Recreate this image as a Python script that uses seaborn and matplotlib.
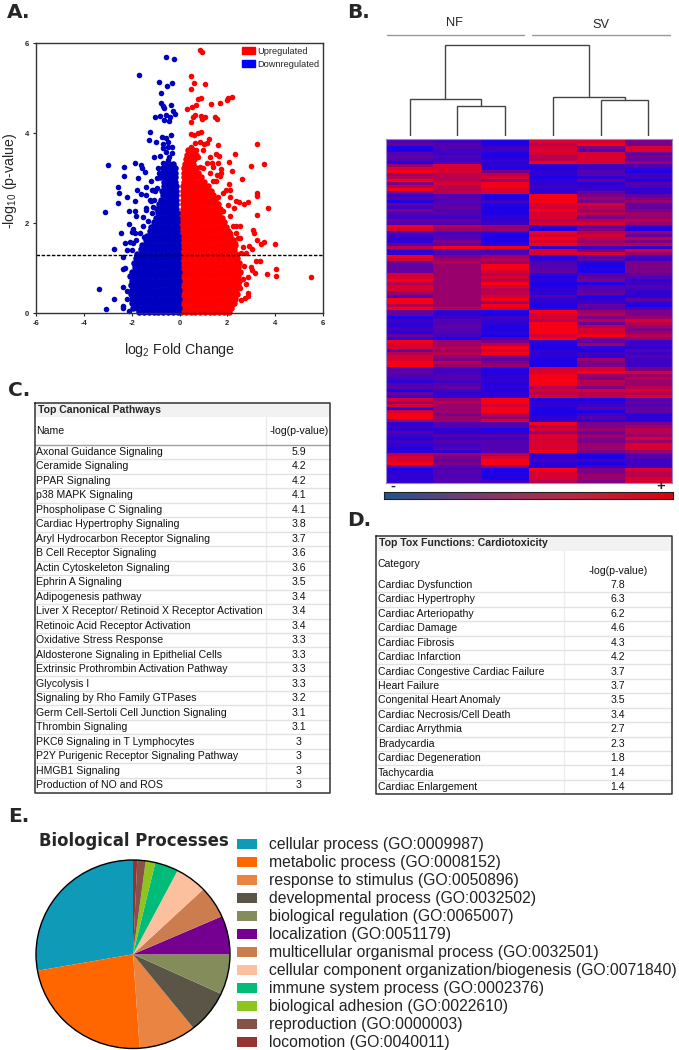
"""Multi-panel figure: volcano plot, clustered heatmap, two tables and a pie."""

import numpy as np
import pandas as pd
import matplotlib

matplotlib.use("Agg")  # headless-safe backend
import matplotlib.pyplot as plt
from matplotlib.colors import LinearSegmentedColormap
from matplotlib.patches import Patch
import seaborn as sns

W, H = 679, 1050

# ---- Panel A: volcano points ------------------------------------------------
up_x = [.85, .93, .49, .60, 1.07, .47, .79, .91, .33, .52, .68, 1.30, 1.69, 1.99, 2.02, 2.19,
        .64, .57, .91, 1.07, .96, .50, 1.48, 1.57, .46, .60, .79, .88, 1.24, 1.02, 1.16, 1.60,
        2.30, 3.25, 2.09, 2.97, 3.52, 1.52, 1.66, 2.20, 2.60, 2.08, 2.10, 1.96, 1.35, 1.62, 1.75,
        3.25, 3.25, 3.69, 3.25, 3.08, 3.11, 3.25, 3.40, 3.52, 4.00, 4.02, 4.05, 3.64, 5.49,
        3.38, 3.19, 3.02, 2.91, 2.35, 2.47, 2.69, 2.88, 2.28, 2.97, 3.05, 3.16, 2.87, 2.80,
        2.87, 2.87, 2.73, 2.59, 2.55, 2.24, 2.38, 2.55, 2.52, 2.31, 2.80, 2.59, 2.7, 2.65,
        1.52, 1.69, 1.27, 1.41, 1.62, 1.82, 2.10, 2.03, 1.82, 2.10, 2.24, 2.38, 2.10, 2.24, 2.45, 2.66,
        1.41, 1.13, .85, .99, 1.55, 1.75, 1.27, .99, .71, .50, .64, .85, .43, .57, .36, .78]
up_y = [5.86, 5.81, 5.27, 5.13, 5.10, 4.98, 4.76, 4.79, 4.55, 4.58, 4.62, 4.65, 4.68, 4.74, 4.78, 4.81,
        4.41, 4.37, 4.39, 4.36, 4.31, 4.26, 4.37, 4.33, 3.99, 3.97, 4.00, 4.04, 3.87, 3.76, 3.78, 3.73,
        3.55, 3.76, 3.36, 3.27, 3.31, 3.54, 3.50, 3.16, 2.98, 2.87, 2.74, 2.74, 3.33, 3.33, 3.21,
        2.67, 2.61, 2.33, 2.19, 1.85, 1.79, 1.63, 1.54, 1.59, 1.53, .99, .83, .87, .80,
        1.15, 1.15, 1.42, 1.50, 2.50, 2.48, 2.43, 2.48, 2.33, 1.02, .95, .89, .81, .65,
        .44, .37, .33, .30, .56, .21, 1.78, 1.94, 1.67, 1.56, 1.33, 1.33, 1.05, .75,
        2.93, 3.04, 3.11, 2.93, 2.59, 2.67, 2.59, 2.41, 2.26, 2.15, 1.93, 1.93, 1.78, 1.63, 1.67, 1.48,
        3.26, 3.33, 3.26, 3.22, 3.07, 3.11, 3.48, 3.63, 3.63, 3.70, 3.78, 3.81, 3.48, 3.41, 3.33, 3.48]

down_x = [-.57, -.24, -1.70, -.85, -.32, -.53, -.78, -.77, -.35, -.68, -.65, -.26, -.18, -1.04, -.82,
          -.57, -.38, -.65, -.43, -1.24, -.36, -1.27, -1.00, -.72, -.58, -.68, -.47, -.33, -1.06,
          -.82, -.58, -2.99, -2.33, -2.34, -1.87, -1.63, -1.55, -1.43, -1.75, -1.21, -2.56, -2.52,
          -2.56, -2.19, -1.77, -1.59, -1.41, -1.87, -3.11, -2.13, -1.87, -1.80, -1.52, -1.38, -2.44,
          -2.13, -1.94, -2.00, -1.87, -2.28, -2.08, -2.74, -2.21, -2.38, -2.28, -2.35, -2.38, -3.37,
          -2.21, -2.74, -2.21, -3.08, -2.35, -2.35, -2.13, -1.10, -1.03, -.96, -1.2, -1.1, -1.5,
          -.96, -.85, -.75, -.61, -.47, -.68, -.89, -1.38, -1.17, -1.24, -1.07, -1.38, -1.17, -1.52,
          -1.31, -1.66, -1.80, -1.49, -1.94, -2.00, -.47, -.33, -.45, -.68]
down_y = [5.70, 5.65, 5.29, 5.15, 5.11, 5.05, 4.89, 4.68, 4.64, 4.61, 4.56, 4.50, 4.44, 4.36, 4.39,
          4.41, 4.36, 4.30, 4.28, 4.03, 3.97, 3.85, 3.81, 3.91, 3.89, 3.76, 3.81, 3.70, 3.47,
          3.50, 3.59, 3.30, 3.24, 3.04, 3.33, 3.30, 3.22, 3.15, 3.00, 2.94, 2.80, 2.68,
          2.44, 2.58, 2.73, 2.64, 2.62, 2.49, 2.25, 2.28, 2.27, 2.15, 2.13, 2.30, 1.77,
          1.99, 1.88, 1.81, 1.78, 1.56, 1.59, 1.42, 1.41, 1.24, 1.00, .98, .58, .53,
          .48, .31, .31, .09, .16, .11, .04, 2.74, 2.72, 2.78, 2.5, 2.35, 1.25,
          3.00, 3.11, 3.22, 3.30, 3.41, 3.33, 3.22, 2.81, 2.74, 2.52, 2.52, 2.33, 2.22, 1.93,
          2.04, 1.78, 1.63, 1.70, 1.56, 1.41, 3.70, 3.56, 3.48, 3.67]

# dense part of the cloud, listed row by row as (p-value level, fold changes)
down_rows = [
    (.03, [-.08, -.28, -.48, -.68, -.88, -1.08, -1.28, -1.48, -1.68]),
    (.12, [-.04, -.18, -.38, -.58, -.78, -.98, -1.18, -1.38, -1.58, -1.78, -1.96]),
    (.22, [-.08, -.28, -.48, -.68, -.88, -1.08, -1.28, -1.48, -1.68, -1.88, -2.0]),
    (.32, [-.04, -.18, -.38, -.58, -.78, -.98, -1.18, -1.38, -1.58, -1.78, -1.98]),
    (.42, [-.08, -.28, -.48, -.68, -.88, -1.08, -1.28, -1.48, -1.68, -1.88, -2.04]),
    (.52, [-.04, -.18, -.38, -.58, -.78, -.98, -1.18, -1.38, -1.58, -1.78, -1.98]),
    (.62, [-.08, -.28, -.48, -.68, -.88, -1.08, -1.28, -1.48, -1.68, -1.88, -2.04]),
    (.72, [-.04, -.18, -.38, -.58, -.78, -.98, -1.18, -1.38, -1.58, -1.78, -1.98]),
    (.82, [-.08, -.28, -.48, -.68, -.88, -1.08, -1.28, -1.48, -1.68, -1.88, -2.06]),
    (.92, [-.04, -.18, -.38, -.58, -.78, -.98, -1.18, -1.38, -1.58, -1.78, -1.98]),
    (1.02, [-.08, -.28, -.48, -.68, -.88, -1.08, -1.28, -1.48, -1.68, -1.88]),
    (1.12, [-.05, -.18, -.38, -.58, -.78, -.98, -1.18, -1.38, -1.58, -1.78, -1.92]),
    (1.22, [-.08, -.28, -.48, -.68, -.88, -1.08, -1.28, -1.48, -1.68, -1.82]),
    (1.32, [-.05, -.18, -.38, -.58, -.78, -.98, -1.18, -1.38, -1.58, -1.76]),
    (1.42, [-.08, -.28, -.48, -.68, -.88, -1.08, -1.28, -1.48, -1.62]),
    (1.52, [-.06, -.18, -.38, -.58, -.78, -.98, -1.18, -1.38, -1.56]),
    (1.62, [-.08, -.28, -.48, -.68, -.88, -1.08, -1.28, -1.42]),
    (1.72, [-.08, -.18, -.38, -.58, -.78, -.98, -1.18, -1.34]),
    (1.82, [-.09, -.28, -.48, -.68, -.88, -1.08, -1.22]),
    (1.92, [-.09, -.18, -.38, -.58, -.78, -.98, -1.18]),
    (2.02, [-.10, -.28, -.48, -.68, -.88, -1.06]),
    (2.12, [-.10, -.20, -.38, -.58, -.78, -.98]),
    (2.22, [-.12, -.28, -.48, -.68, -.88]),
    (2.32, [-.13, -.22, -.38, -.58, -.78, -.92]),
    (2.42, [-.14, -.28, -.48, -.68, -.84]),
    (2.52, [-.14, -.24, -.38, -.58, -.78]),
    (2.62, [-.15, -.28, -.48, -.68]),
    (2.72, [-.15, -.24, -.38, -.58, -.72]),
    (2.82, [-.16, -.28, -.48, -.64]),
    (2.92, [-.20, -.36, -.52, -.66]),
    (3.02, [-.18, -.30, -.46, -.62, -.80]),
    (3.12, [-.20, -.36, -.52, -.70]),
    (3.22, [-.20, -.32, -.48, -.60]),
    (3.32, [-.28, -.44, -.55]),
]
up_rows = [
    (.03, [.06, .26, .46, .66, .86, 1.06, 1.26, 1.46, 1.66, 1.86, 2.06]),
    (.12, [.02, .16, .36, .56, .76, .96, 1.16, 1.36, 1.56, 1.76, 1.96, 2.16]),
    (.22, [.06, .26, .46, .66, .86, 1.06, 1.26, 1.46, 1.66, 1.86, 2.06, 2.26]),
    (.32, [.03, .16, .36, .56, .76, .96, 1.16, 1.36, 1.56, 1.76, 1.96, 2.16, 2.30]),
    (.42, [.06, .26, .46, .66, .86, 1.06, 1.26, 1.46, 1.66, 1.86, 2.06, 2.26, 2.42]),
    (.52, [.04, .16, .36, .56, .76, .96, 1.16, 1.36, 1.56, 1.76, 1.96, 2.16, 2.36]),
    (.62, [.06, .26, .46, .66, .86, 1.06, 1.26, 1.46, 1.66, 1.86, 2.06, 2.26, 2.44]),
    (.72, [.04, .16, .36, .56, .76, .96, 1.16, 1.36, 1.56, 1.76, 1.96, 2.16, 2.36, 2.50]),
    (.82, [.06, .26, .46, .66, .86, 1.06, 1.26, 1.46, 1.66, 1.86, 2.06, 2.26, 2.46]),
    (.92, [.05, .16, .36, .56, .76, .96, 1.16, 1.36, 1.56, 1.76, 1.96, 2.16, 2.36, 2.54]),
    (1.02, [.06, .26, .46, .66, .86, 1.06, 1.26, 1.46, 1.66, 1.86, 2.06, 2.26, 2.46]),
    (1.12, [.05, .16, .36, .56, .76, .96, 1.16, 1.36, 1.56, 1.76, 1.96, 2.16, 2.36, 2.50]),
    (1.22, [.06, .26, .46, .66, .86, 1.06, 1.26, 1.46, 1.66, 1.86, 2.06, 2.26, 2.42]),
    (1.32, [.06, .16, .36, .56, .76, .96, 1.16, 1.36, 1.56, 1.76, 1.96, 2.16, 2.36]),
    (1.42, [.06, .26, .46, .66, .86, 1.06, 1.26, 1.46, 1.66, 1.86, 2.06, 2.26]),
    (1.52, [.07, .16, .36, .56, .76, .96, 1.16, 1.36, 1.56, 1.76, 1.96, 2.16, 2.30]),
    (1.62, [.08, .26, .46, .66, .86, 1.06, 1.26, 1.46, 1.66, 1.86, 2.06, 2.22]),
    (1.72, [.08, .16, .36, .56, .76, .96, 1.16, 1.36, 1.56, 1.76, 1.96, 2.10]),
    (1.82, [.09, .26, .46, .66, .86, 1.06, 1.26, 1.46, 1.66, 1.86, 2.02]),
    (1.92, [.09, .16, .36, .56, .76, .96, 1.16, 1.36, 1.56, 1.76, 1.96]),
    (2.02, [.10, .26, .46, .66, .86, 1.06, 1.26, 1.46, 1.66, 1.86]),
    (2.12, [.11, .20, .36, .56, .76, .96, 1.16, 1.36, 1.56, 1.76]),
    (2.22, [.12, .26, .46, .66, .86, 1.06, 1.26, 1.46, 1.66]),
    (2.32, [.13, .22, .36, .56, .76, .96, 1.16, 1.36, 1.56, 1.70]),
    (2.42, [.13, .26, .46, .66, .86, 1.06, 1.26, 1.46, 1.60]),
    (2.52, [.14, .24, .36, .56, .76, .96, 1.16, 1.36, 1.50]),
    (2.62, [.15, .26, .46, .66, .86, 1.06, 1.26, 1.40]),
    (2.72, [.15, .24, .36, .56, .76, .96, 1.16, 1.30]),
    (2.82, [.16, .26, .46, .66, .86, 1.06, 1.20]),
    (2.92, [.17, .30, .46, .66, .86, 1.02]),
    (3.02, [.18, .34, .52, .70, .88]),
    (3.12, [.18, .30, .46, .62, .78]),
    (3.22, [.20, .38, .56, .70]),
    (3.32, [.24, .40, .58]),
    (3.42, [.28, .46, .62]),
    (3.52, [.32, .50, .70]),
    (3.62, [.36, .56]),
]
x_ticks = [-6, -4, -2, 0, 2, 4, 6]
y_ticks = [0, 2, 4, 6]
cutoff = 1.3

# ---- Panel B: one string per gene row, one digit per sample (0 blue, 9 red) --
heat_rows = """
320885 430795 032858 022838 320884 430785 321784 031986 681123 880021 985130 677132
778012 976140 589113 779213 978121 578141 230954 330965 032956 430884 240874 530965
330876 221856 441777 332886 976241 866050 321976 230884 130977 150865 441977 799121
131858 133886 956032 867142 476305 469305 469305 468405 867134 868043 967151 769002
868033 867132 667141 368301 969114 966121 769040 978133 410965 410875 022856 231778
131947 140976 230985 131986 420897 103956 965142 867062 879011 468103 779122 865113
854062 975052 966052 320885 420898 331966 231957 121976 330976 341757 020888 411777
221878 869003 679114 868123 069034 869004 957020 966131 668111 133955 233756 110867
311647 233866 022858 233856 123868 033868 113956 767003 858103 849222 959102 436022
030958 130857 130867 130868 132758
"""
heat = [[int(c) for c in row] for row in heat_rows.split()]
heat_cols = ["NF1", "NF2", "NF3", "SV1", "SV2", "SV3"]

# dendrogram merges: (left leaf position, right leaf position, height)
merge_left = [1.5, 0.5, 4.5, 3.5, 1.25]
merge_right = [2.5, 2.0, 5.5, 5.0, 4.25]
merge_height = [30, 37.5, 36, 39, 91.5]
merge_left_height = [0, 0, 0, 0, 37.5]
merge_right_height = [0, 30, 0, 36, 39]
group_names = ["NF", "SV"]

# ---- Panels C and D ----------------------------------------------------------
pathways = ["Axonal Guidance Signaling", "Ceramide Signaling", "PPAR Signaling",
            "p38 MAPK Signaling", "Phospholipase C Signaling", "Cardiac Hypertrophy Signaling",
            "Aryl Hydrocarbon Receptor Signaling", "B Cell Receptor Signaling",
            "Actin Cytoskeleton Signaling", "Ephrin A Signaling", "Adipogenesis pathway",
            "Liver X Receptor/ Retinoid X Receptor Activation", "Retinoic Acid Receptor Activation",
            "Oxidative Stress Response", "Aldosterone Signaling in Epithelial Cells",
            "Extrinsic Prothrombin Activation Pathway", "Glycolysis I",
            "Signaling by Rho Family GTPases", "Germ Cell-Sertoli Cell Junction Signaling",
            "Thrombin Signaling", "PKC\u03b8 Signaling in T Lymphocytes",
            "P2Y Purigenic Receptor Signaling Pathway", "HMGB1 Signaling", "Production of NO and ROS"]
pathway_vals = ["5.9", "4.2", "4.2", "4.1", "4.1", "3.8", "3.7", "3.6", "3.6", "3.5", "3.4", "3.4",
                "3.4", "3.3", "3.3", "3.3", "3.3", "3.2", "3.1", "3.1", "3", "3", "3", "3"]

tox_names = ["Cardiac Dysfunction", "Cardiac Hypertrophy", "Cardiac Arteriopathy", "Cardiac Damage",
             "Cardiac Fibrosis", "Cardiac Infarction", "Cardiac Congestive Cardiac Failure",
             "Heart Failure", "Congenital Heart Anomaly", "Cardiac Necrosis/Cell Death",
             "Cardiac Arrythmia", "Bradycardia", "Cardiac Degeneration", "Tachycardia",
             "Cardiac Enlargement"]
tox_vals = ["7.8", "6.3", "6.2", "4.6", "4.3", "4.2", "3.7", "3.7", "3.5", "3.4", "2.7", "2.3",
            "1.8", "1.4", "1.4"]

# ---- Panel E -----------------------------------------------------------------
go_labels = ["cellular process (GO:0009987)", "metabolic process (GO:0008152)",
             "response to stimulus (GO:0050896)", "developmental process (GO:0032502)",
             "biological regulation (GO:0065007)", "localization (GO:0051179)",
             "multicellular organismal process (GO:0032501)",
             "cellular component organization/biogenesis (GO:0071840)",
             "immune system process (GO:0002376)", "biological adhesion (GO:0022610)",
             "reproduction (GO:0000003)", "locomotion (GO:0040011)"]
go_share = [27.8, 23.3, 9.6, 7.4, 6.9, 6.6, 5.5, 5.3, 3.9, 1.6, 1.4, .7]
go_colors = ["#0f9ab8", "#ff6600", "#e98443", "#5a5546", "#848c5c", "#75008f",
             "#cc7d50", "#fdc09f", "#00bc78", "#8dc41e", "#865248", "#953432"]

sns.set_style("white")
plt.rcParams["font.family"] = ["Liberation Sans", "DejaVu Sans"]
plt.rcParams["mathtext.default"] = "regular"
plt.rcParams["axes.unicode_minus"] = False

fig = plt.figure(figsize=(W / 100, H / 100), dpi=100)


def px_axes(x0, y0, x1, y1):
    """Axes placed by its pixel box, y counted from the top of the image."""
    return fig.add_axes([x0 / W, 1 - y1 / H, (x1 - x0) / W, (y1 - y0) / H])


def expand_rows(rows):
    xs, ys = [], []
    for level, fold_changes in rows:
        xs += fold_changes
        ys += [level] * len(fold_changes)
    return xs, ys


# full-page layer for the panel letters, tables and small annotations
page = px_axes(0, 0, W, H)
page.set_xlim(0, W)
page.set_ylim(H, 0)
page.axis("off")
page.set_zorder(10)


def draw_table(title, head_left, head_right, names, vals, box, split, band, head_line,
               first_y, step, head_y, val_head_y, val_x):
    left, top, right, bottom = box
    page.fill_between([left, right], top, band, color="#f2f2f2", lw=0, zorder=1)
    page.plot([split, split], [band, bottom], color="#ececec", lw=1, zorder=1)
    if head_line:
        page.plot([left, right], [head_line, head_line], color="#a0a0a0", lw=1, zorder=1)
    for i in range(len(names)):
        y = first_y + i * step
        if i < len(names) - 1:
            page.plot([left, right], [y + step / 2, y + step / 2], color="#e2e2e2", lw=1, zorder=1)
        page.text(left + 2, y, names[i], fontsize=7.6, va="center", color="#111111", zorder=3)
        page.text(val_x, y, vals[i], fontsize=7.6, va="center", ha="center", color="#111111", zorder=3)
    page.plot([left, right, right, left, left], [top, top, bottom, bottom, top],
              color="#333333", lw=1.1, zorder=4)
    page.text(left + 3, (top + band) / 2, title, fontsize=7.6, fontweight="bold", va="center", zorder=3)
    page.text(left + 2, head_y, head_left, fontsize=7.6, va="center", color="#111111", zorder=3)
    page.text(val_x, val_head_y, head_right, fontsize=7.6, va="center", ha="center", color="#111111", zorder=3)


# ---- A: volcano --------------------------------------------------------------
ax = px_axes(36, 43.5, 323, 313)
mass_up_x, mass_up_y = expand_rows(up_rows)
mass_down_x, mass_down_y = expand_rows(down_rows)
up_color, down_color = "#ff0000", "#0000c0"
sns.scatterplot(x=mass_up_x, y=mass_up_y, color=up_color, s=22, linewidth=0, ax=ax, clip_on=False)
sns.scatterplot(x=mass_down_x, y=mass_down_y, color=down_color, s=22, linewidth=0, ax=ax, clip_on=False)
sns.scatterplot(x=up_x, y=up_y, color=up_color, s=16, linewidth=0, ax=ax, clip_on=False)
sns.scatterplot(x=down_x, y=down_y, color=down_color, s=16, linewidth=0, ax=ax, clip_on=False)
ax.axhline(cutoff, color="black", ls=(0, (2.5, 1.2)), lw=1.0)
ax.set_xlim(-6, 6)
ax.set_ylim(0, 6)
ax.set_xticks(x_ticks)
ax.set_yticks(y_ticks)
ax.tick_params(axis="both", direction="out", length=2.5, width=0.8, pad=2.5, labelsize=5.5,
               bottom=True, left=True, color="#222222")
for lab in ax.get_xticklabels() + ax.get_yticklabels():
    lab.set_fontweight("bold")
for spine in ax.spines.values():
    spine.set_color("#333333")
    spine.set_linewidth(1.0)
ax.set_xlabel("log$_{2}$ Fold Change", fontsize=10.2, labelpad=10)
ax.set_ylabel("-log$_{10}$ (p-value)", fontsize=10.2)
ax.yaxis.set_label_coords(-0.06, 0.49)
ax.legend(handles=[Patch(color="#ff0000", label="Upregulated"),
                   Patch(color="#0000ff", label="Downregulated")],
          loc="upper right", bbox_to_anchor=(0.995, 0.995), frameon=False, fontsize=6.7,
          handlelength=1.4, handleheight=0.9, handletextpad=0.25, labelspacing=0.4,
          borderaxespad=0, borderpad=0.2)

# ---- B: heatmap and dendrogram -----------------------------------------------
heat_cmap = LinearSegmentedColormap.from_list("bpr", ["#1e00e6", "#6c0096", "#f50015"])
ax = px_axes(385.7, 139.5, 672.3, 483)
sns.heatmap(pd.DataFrame(heat, columns=heat_cols), cmap=heat_cmap, vmin=0, vmax=9, cbar=False,
            xticklabels=False, yticklabels=False, ax=ax)
for spine in ax.spines.values():
    spine.set_visible(True)
    spine.set_color("#9a88cc")
    spine.set_linewidth(0.8)

ax = px_axes(385.7, 44, 672.3, 136)
ax.set_xlim(0, 6)
ax.set_ylim(0, 92)
ax.axis("off")
for xl, xr, h, hl, hr in zip(merge_left, merge_right, merge_height, merge_left_height, merge_right_height):
    ax.plot([xl, xl, xr, xr], [hl, h, h, hr], color="#444444", lw=1.0, solid_joinstyle="miter")

page.plot([387, 524], [35, 35], color="#999999", lw=1)
page.plot([532, 670], [35, 35], color="#999999", lw=1)
page.text(454, 23, group_names[0], fontsize=9.2, ha="center", va="center")
page.text(601, 25, group_names[1], fontsize=9.2, ha="center", va="center")

# gradient key under the heatmap
key_cmap = LinearSegmentedColormap.from_list("key", ["#1f5590", "#7a3a6a", "#b8283f", "#dd0010"])
ax = px_axes(383.5, 492, 673, 498.5)
sns.heatmap([list(np.linspace(0, 1, 256))], cmap=key_cmap, cbar=False, xticklabels=False,
            yticklabels=False, ax=ax)
for spine in ax.spines.values():
    spine.set_visible(True)
    spine.set_color("#222222")
    spine.set_linewidth(0.8)
page.text(393, 486, "-", fontsize=10.5, fontweight="bold", ha="center", va="center")
page.text(660.5, 486, "+", fontsize=10.5, fontweight="bold", ha="center", va="center")

# ---- C and D: tables ---------------------------------------------------------
draw_table("Top Canonical Pathways", "Name", "-log(p-value)", pathways, pathway_vals,
           (34.5, 402.5, 330, 793), 265.7, 417, 444.5, 452, 14.48, 431, 431, 299)
draw_table("Top Tox Functions: Cardiotoxicity", "Category", "-log(p-value)", tox_names, tox_vals,
           (376, 536, 672, 794), 564, 551, None, 585, 14.43, 564, 571, 618)

# ---- E: pie ------------------------------------------------------------------
ax = px_axes(36, 860, 230, 1048.5)
wedges, _ = ax.pie(go_share, colors=go_colors, startangle=90, counterclock=True,
                   wedgeprops={"linewidth": 0})
ax.set_xlim(-1, 1)
ax.set_ylim(-1, 1)
ax.set_aspect("auto")
ax.add_patch(plt.Circle((0, 0), 1, fill=False, ec="black", lw=1.0, clip_on=False))
page.text(133.5, 841, "Biological Processes", fontsize=11.9, fontweight="bold", ha="center", va="center",
          family="DejaVu Sans")
fig.legend(wedges, go_labels, loc="upper left", bbox_to_anchor=(237 / W, 1 - 837.5 / H), frameon=False,
           fontsize=11.3, handlelength=1.27, handleheight=0.57, handletextpad=0.76, labelspacing=0.19,
           borderpad=0, borderaxespad=0, labelcolor="#222222")

# ---- panel letters -----------------------------------------------------------
for letter, x, y in [("A.", 7, 12), ("B.", 347, 12), ("C.", 8, 390), ("D.", 347, 520), ("E.", 8, 817)]:
    page.text(x, y, letter, fontsize=14.5, fontweight="bold", va="center", family="DejaVu Sans")

fig.savefig("out.png", dpi=100)
plt.close(fig)
